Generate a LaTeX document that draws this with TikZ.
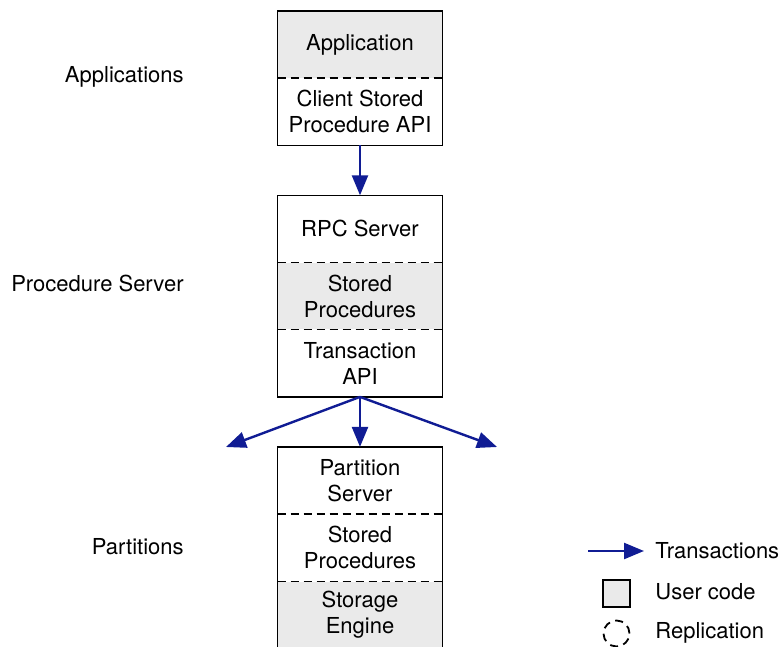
\documentclass[tikz,border=0pt]{standalone}
\usepackage{fontspec}
\setmainfont{TeX Gyre Heros}
\usetikzlibrary{positioning,arrows.meta}
\definecolor{txnblue}{RGB}{16,28,148}
\definecolor{usergray}{RGB}{234,234,234}
\tikzset{
    part/.style={minimum width=82pt, minimum height=33.2pt, inner sep=0pt, align=center, font=\fontsize{11}{13}\selectfont},
    user/.style={part, fill=usergray},
    outline/.style={line width=0.75pt},
    divider/.style={dash pattern=on 4pt off 2.5pt, line width=0.8pt},
    txn/.style={txnblue, line width=1.2pt, -{Triangle[length=10pt,width=8pt]}},
    layer/.style={anchor=east, inner sep=0pt, font=\fontsize{11}{13}\selectfont},
    legtext/.style={anchor=west, inner sep=0pt, font=\fontsize{11}{13}\selectfont},
}

\begin{document}
\begin{tikzpicture}[x=0.5pt, y=-0.5pt]
    \useasboundingbox (0,0) rectangle (783,647);

    % Applications
    \node[user] (app) at (360,44.5) {Application};
    \node[part, below=0pt of app] (clientapi) {Client Stored\\Procedure API};
    \draw[outline] (app.north west) rectangle (clientapi.south east);
    \draw[divider] (app.south west) -- (app.south east);

    % Procedure server
    \node[part, below=25pt of clientapi] (rpc) {RPC Server};
    \node[user, below=0pt of rpc] (procs) {Stored\\Procedures};
    \node[part, below=0pt of procs] (txnapi) {Transaction\\API};
    \draw[outline] (rpc.north west) rectangle (txnapi.south east);
    \draw[divider] (rpc.south west) -- (rpc.south east);
    \draw[divider] (procs.south west) -- (procs.south east);

    % Partitions
    \node[part, below=25pt of txnapi] (partsrv) {Partition\\Server};
    \node[part, below=0pt of partsrv] (partprocs) {Stored\\Procedures};
    \node[user, below=0pt of partprocs] (storage) {Storage\\Engine};
    \draw[outline] (partsrv.north west) rectangle (storage.south east);
    \draw[divider] (partsrv.south west) -- (partsrv.south east);
    \draw[divider] (partprocs.south west) -- (partprocs.south east);

    % Layer names
    \node[layer] (lapps) at (184,77) {Applications};
    \node[layer] (lserver) at (184,283) {Procedure Server};
    \node[layer] (lparts) at (184,547) {Partitions};

    % Transactions
    \coordinate (fanl) at (226,447);
    \coordinate (fanr) at (497,447);
    \draw[txn] (clientapi) -- (rpc);
    \draw[txn] (txnapi.south) -- (fanl);
    \draw[txn] (txnapi) -- (partsrv);
    \draw[txn] (txnapi.south) -- (fanr);

    % Legend
    \coordinate (legA) at (588,551);
    \coordinate (legB) at (644,551);
    \draw[txn] (legA) -- (legB);
    \node[legtext] (ltxn) at (655,551) {Transactions};
    \node[draw, outline, fill=usergray, minimum size=13.5pt, inner sep=0pt] (lbox) at (616.5,593.5) {};
    \node[legtext] (luser) at (655,592) {User code};
    \node[circle, draw, line width=0.9pt, dash pattern=on 4pt off 2.8pt, minimum size=13pt, inner sep=0pt] (lrep) at (616.5,633.5) {};
    \node[legtext] (lrepl) at (655,633) {Replication};
\end{tikzpicture}
\end{document}
